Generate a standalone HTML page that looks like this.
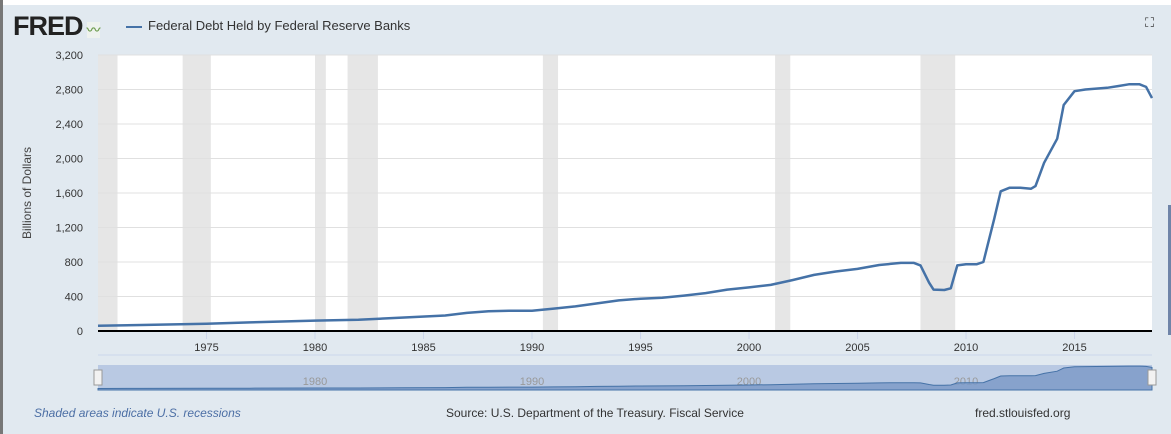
<!DOCTYPE html>
<html><head><meta charset="utf-8"><style>
body{margin:0;width:1171px;height:434px;overflow:hidden;background:#e1e9f0;font-family:"Liberation Sans","Noto Sans CJK SC",sans-serif;position:relative}
.t{position:absolute;white-space:nowrap}
</style></head><body>
<div style="position:absolute;left:0;top:0;width:3px;height:434px;background:#777"></div>
<div style="position:absolute;left:3px;top:0;width:1168px;height:5px;background:#fff"></div>
<div class="t" style="left:13px;top:11px;font-size:27px;font-weight:bold;color:#222;letter-spacing:-1px">FRED<span style="font-size:14px;color:#6a9a4a;background:#eef2ee;margin-left:4px">〰</span></div>
<div class="t" style="left:126px;top:18px;font-size:13px;color:#333"><span style="display:inline-block;width:16px;height:2px;background:#4572a7;vertical-align:middle;margin-right:6px"></span>Federal Debt Held by Federal Reserve Banks</div>
<div class="t" style="left:1145px;top:15px;font-size:13px;color:#333">⛶</div>
<div class="t" style="left:27px;top:193px;font-size:12px;color:#444;transform:translate(-50%,-50%) rotate(-90deg)">Billions of Dollars</div>
<div style="position:absolute;left:1168px;top:205px;width:3px;height:130px;background:#6f84a8"></div>
<svg id="c" width="1171" height="434" style="position:absolute;left:0;top:0"></svg>
<div class="t" style="left:34px;top:406px;font-size:12px;font-style:italic;color:#4c6fa5">Shaded areas indicate U.S. recessions</div>
<div class="t" style="left:446px;top:406px;font-size:12px;color:#333">Source: U.S. Department of the Treasury. Fiscal Service</div>
<div class="t" style="left:975px;top:406px;font-size:12px;color:#333">fred.stlouisfed.org</div>
<script>
const years=[1970,1972,1975,1977,1980,1982,1984,1986,1987,1988,1989,1990,1991,1992,1993,1994,1995,1996,1997,1998,1999,2000,2001,2002,2003,2004,2005,2006,2007,2007.6,2007.9,2008.3,2008.5,2009,2009.3,2009.6,2010,2010.5,2010.8,2011,2011.3,2011.6,2012,2012.5,2013,2013.2,2013.6,2014.2,2014.5,2015,2015.5,2016,2016.5,2017,2017.5,2018,2018.3,2018.57];
const values=[60,70,85,100,120,130,155,180,210,230,235,235,260,285,320,355,375,385,410,440,480,505,535,590,650,690,720,765,790,790,760,560,480,475,495,760,775,775,800,1000,1300,1620,1660,1660,1650,1680,1950,2230,2620,2780,2800,2810,2820,2840,2860,2860,2830,2700];
const recessions=[[1969.9,1970.9],[1973.9,1975.2],[1980.0,1980.5],[1981.5,1982.9],[1990.5,1991.2],[2001.2,2001.9],[2007.9,2009.5]];
const yTicks=[0,400,800,1200,1600,2000,2400,2800,3200];
const yTickLabels=["0","400","800","1,200","1,600","2,000","2,400","2,800","3,200"];
const xTicks=[1975,1980,1985,1990,1995,2000,2005,2010,2015];
const navTicks=[1980,1990,2000,2010];
const X0=98,X1=1152,Y0=331,Y1=55,xmin=1970,xmax=2018.57,ymax=3200;
const sx=v=>X0+(v-xmin)/(xmax-xmin)*(X1-X0);
const sy=v=>Y0-v/ymax*(Y0-Y1);
const ny=v=>389-v/3000*24;
const svg=document.getElementById('c');const NS='http://www.w3.org/2000/svg';
function mk(t,a){const e=document.createElementNS(NS,t);for(const k in a)e.setAttribute(k,a[k]);svg.appendChild(e);return e;}
let e=mk('rect',{x:X0,y:Y1,width:X1-X0,height:Y0-Y1,fill:'#fff'});


recessions.forEach(r=>{const a=Math.max(sx(r[0]),X0);const el=mk('rect',{x:a,y:Y1,width:sx(r[1])-a,height:Y0-Y1,fill:'#e6e6e6'});

});
yTicks.forEach((v,i)=>{if(v>0){const g=mk('line',{x1:X0,x2:X1,y1:sy(v),y2:sy(v),stroke:'#e0e0e0'});

}
const t=mk('text',{x:83,y:sy(v)+4,'text-anchor':'end','font-size':11,fill:'#333'});t.textContent=yTickLabels[i];

});
xTicks.forEach(v=>{const l=mk('line',{x1:sx(v),x2:sx(v),y1:Y0,y2:Y0+8,stroke:'#ccd6eb'});


const t=mk('text',{x:sx(v),y:351,'text-anchor':'middle','font-size':11,fill:'#333'});t.textContent=v;

});
e=mk('line',{x1:X0,x2:X1,y1:Y0,y2:Y0,stroke:'#000','stroke-width':2});


e=mk('line',{x1:X0,x2:X1,y1:355,y2:355,stroke:'#ccd6eb'});


const pts=years.map((y,i)=>sx(y).toFixed(1)+','+sy(values[i]).toFixed(1)).join(' ');
e=mk('polyline',{points:pts,fill:'none',stroke:'#4572a7','stroke-width':2.5,'stroke-linejoin':'round'});


e=mk('rect',{x:X0,y:365,width:X1-X0,height:25,fill:'#b9c9e3'});


navTicks.forEach(v=>{const t=mk('text',{x:sx(v),y:385,'text-anchor':'middle','font-size':11,fill:'#999'});t.textContent=v;

});
const np='M'+X0+',390 '+years.map((y,i)=>'L'+sx(y).toFixed(1)+','+ny(values[i]).toFixed(1)).join(' ')+' L'+X1+',390Z';
e=mk('path',{d:np,fill:'#7e9bc8','fill-opacity':0.85,stroke:'#4572a7','stroke-width':1});


[X0-4,X1-4].forEach(x=>{const h=mk('rect',{x:x,y:370,width:8,height:15,fill:'#f2f2f2',stroke:'#999'});

});
</script>
</body></html>
